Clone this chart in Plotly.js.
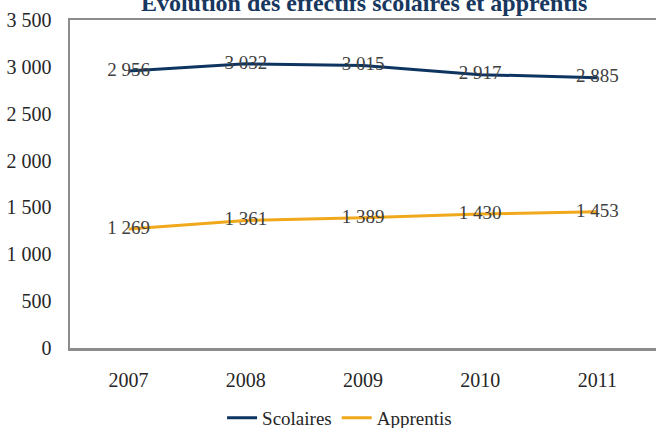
<!DOCTYPE html>
<html>
<head>
<meta charset="utf-8">
<script src="https://cdn.plot.ly/plotly-3.0.1.min.js"></script>
<style>html,body{margin:0;padding:0;background:#fff}#chart{width:656px;height:428px}</style>
</head>
<body>
<div id="chart"></div>
<script>
const years = ["2007", "2008", "2009", "2010", "2011"];
const scolaires = [2956, 3032, 3015, 2917, 2885];
const apprentis = [1269, 1361, 1389, 1430, 1453];
const yTicks = [0, 500, 1000, 1500, 2000, 2500, 3000, 3500];

const fmt = v => String(v).replace(/\B(?=(\d{3})+(?!\d))/g, " ");
const serif = "Liberation Serif, Times New Roman, serif";

const traces = [
  {x: years, y: scolaires, name: "Scolaires", type: "scatter", mode: "lines+text",
   line: {color: "#0E3460", width: 3}, text: scolaires.map(fmt), textposition: "middle center",
   textfont: {family: serif, size: 19, color: "#404040"}, cliponaxis: false, hoverinfo: "skip"},
  {x: years, y: apprentis, name: "Apprentis", type: "scatter", mode: "lines+text",
   line: {color: "#F0A81C", width: 3}, text: apprentis.map(fmt), textposition: "middle center",
   textfont: {family: serif, size: 19, color: "#404040"}, cliponaxis: false, hoverinfo: "skip"}
];

const layout = {
  width: 656, height: 428,
  margin: {l: 70, r: 0, t: 20, b: 80, autoexpand: false},
  paper_bgcolor: "#fff", plot_bgcolor: "#fff",
  font: {family: serif, size: 19, color: "#262626"},
  title: {text: "Évolution des effectifs scolaires et apprentis",
          font: {family: serif, size: 24, color: "#17375E", weight: "bold"},
          x: 0.555, xanchor: "center", y: 1 - 11 / 428, yanchor: "bottom", yref: "container"},
  xaxis: {type: "category", range: [-0.5, 4.5], showgrid: false, zeroline: false, showline: true, mirror: true,
          linecolor: "#8C8C8C", linewidth: 2.5, ticks: "", tickfont: {size: 20, color: "#262626"},
          ticklabelstandoff: 12},
  yaxis: {range: [0, 3500], tickvals: yTicks, ticktext: yTicks.map(fmt), showgrid: false,
          zeroline: false, showline: true, linecolor: "#8C8C8C", linewidth: 2.5, ticks: "",
          tickfont: {size: 20, color: "#262626"}, ticklabelstandoff: 12},
  showlegend: true,
  legend: {orientation: "h", x: 0.46, xanchor: "center", y: -0.213, yanchor: "middle",
           font: {family: serif, size: 19, color: "#262626"}, itemwidth: 30},
};

Plotly.newPlot("chart", traces, layout, {displayModeBar: false, staticPlot: true});
</script>
</body>
</html>
